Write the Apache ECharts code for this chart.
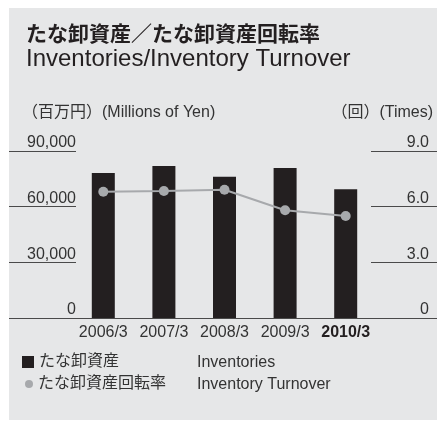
<!DOCTYPE html>
<html>
<head>
<meta charset="utf-8">
<script src="https://cdn.jsdelivr.net/npm/echarts@6/dist/echarts.min.js"></script>
<style>
  html, body { margin: 0; padding: 0; background: #ffffff; }
  #chart { width: 437px; height: 422px; }
</style>
</head>
<body>
<div id="chart"></div>
<script>
// Fiscal years (March year-end)
const categories = ['2006/3', '2007/3', '2008/3', '2009/3', '2010/3'];
// Inventories, millions of yen
const inventories = [78200, 81900, 76100, 80900, 69400];
// Inventory turnover, times
const turnover = [6.80, 6.84, 6.91, 5.81, 5.50];
// Axis tick labels
const leftTicks = ['0', '30,000', '60,000', '90,000'];
const rightTicks = ['0', '3.0', '6.0', '9.0'];

const FONT = '"Liberation Sans", "Noto Sans CJK JP", sans-serif';
const RULE = '#4a4a4a';

const chart = echarts.init(document.getElementById('chart'), null, { renderer: 'canvas' });

chart.setOption({
  backgroundColor: '#ffffff',
  animation: false,
  textStyle: { fontFamily: FONT },
  graphic: [
    { type: 'rect', z: -10, silent: true,
      shape: { x: 9, y: 8, width: 428, height: 412 },
      style: { fill: '#e6e7e8' } },
    { type: 'text', left: 26, top: 25,
      style: { text: 'たな卸資産／たな卸資産回転率', font: 'bold 21px ' + FONT, fill: '#231f20' } },
    { type: 'text', left: 26, top: 47,
      style: { text: 'Inventories/Inventory Turnover', font: '24px ' + FONT, fill: '#231f20' } },
    { type: 'text', left: 22, top: 105,
      style: { text: '（百万円）(Millions of Yen)', font: '16px ' + FONT, fill: '#333333' } },
    { type: 'text', right: 4, top: 105,
      style: { text: '（回）(Times)', font: '16px ' + FONT, fill: '#333333' } },
    { type: 'text', left: 197, top: 355,
      style: { text: 'Inventories', font: '16px ' + FONT, fill: '#333333' } },
    { type: 'text', left: 197, top: 377,
      style: { text: 'Inventory Turnover', font: '16px ' + FONT, fill: '#333333' } }
  ],
  legend: [
    { data: ['たな卸資産'], left: 22, top: 354, orient: 'vertical', padding: 0,
      icon: 'rect', itemWidth: 12, itemHeight: 12, itemGap: 0,
      textStyle: { fontSize: 16, color: '#333333', fontFamily: FONT } },
    { data: ['たな卸資産回転率'], left: 25, top: 376, orient: 'vertical', padding: 0,
      icon: 'circle', itemWidth: 8, itemHeight: 8, itemGap: 0,
      itemStyle: { color: '#a7a9ac' },
      textStyle: { fontSize: 16, color: '#333333', fontFamily: FONT } }
  ],
  grid: { left: 73, right: 61, top: 151, bottom: 104, containLabel: false },
  xAxis: {
    type: 'category',
    data: categories,
    axisLine: { lineStyle: { color: RULE, width: 1 } },
    axisTick: { show: false },
    axisLabel: {
      interval: 0, hideOverlap: false,
      margin: 7, fontSize: 16, color: '#333333', fontFamily: FONT,
      formatter: (v) => v === categories[categories.length - 1] ? '{b|' + v + '}' : v,
      rich: { b: { fontWeight: 'bold', fontSize: 16, color: '#231f20', fontFamily: FONT } }
    }
  },
  yAxis: [
    {
      type: 'value', min: 0, max: 90000, interval: 30000, offset: -3,
      axisLine: { show: false },
      axisTick: { show: true, inside: false, length: 67, lineStyle: { color: RULE, width: 1 } },
      splitLine: { show: false },
      axisLabel: {
        margin: 0, fontSize: 16, color: '#333333', fontFamily: FONT,
        verticalAlign: 'bottom', padding: 0,
        formatter: (v) => leftTicks[Math.round(v / 30000)]
      }
    },
    {
      type: 'value', min: 0, max: 9, interval: 3, offset: -5, position: 'right',
      axisLine: { show: false },
      axisTick: { show: true, inside: false, length: 66, lineStyle: { color: RULE, width: 1 } },
      splitLine: { show: false },
      axisLabel: {
        margin: 58, align: 'right', fontSize: 16, color: '#333333', fontFamily: FONT,
        verticalAlign: 'bottom', padding: 0,
        formatter: (v) => rightTicks[Math.round(v / 3)]
      }
    }
  ],
  series: [
    {
      name: 'たな卸資産', type: 'bar', yAxisIndex: 0,
      data: inventories, barWidth: 23,
      itemStyle: { color: '#231f20' }
    },
    {
      name: 'たな卸資産回転率', type: 'line', yAxisIndex: 1,
      data: turnover, symbol: 'circle', symbolSize: 10,
      lineStyle: { color: '#a7a9ac', width: 2 },
      itemStyle: { color: '#a7a9ac' }
    }
  ]
});
</script>
</body>
</html>
